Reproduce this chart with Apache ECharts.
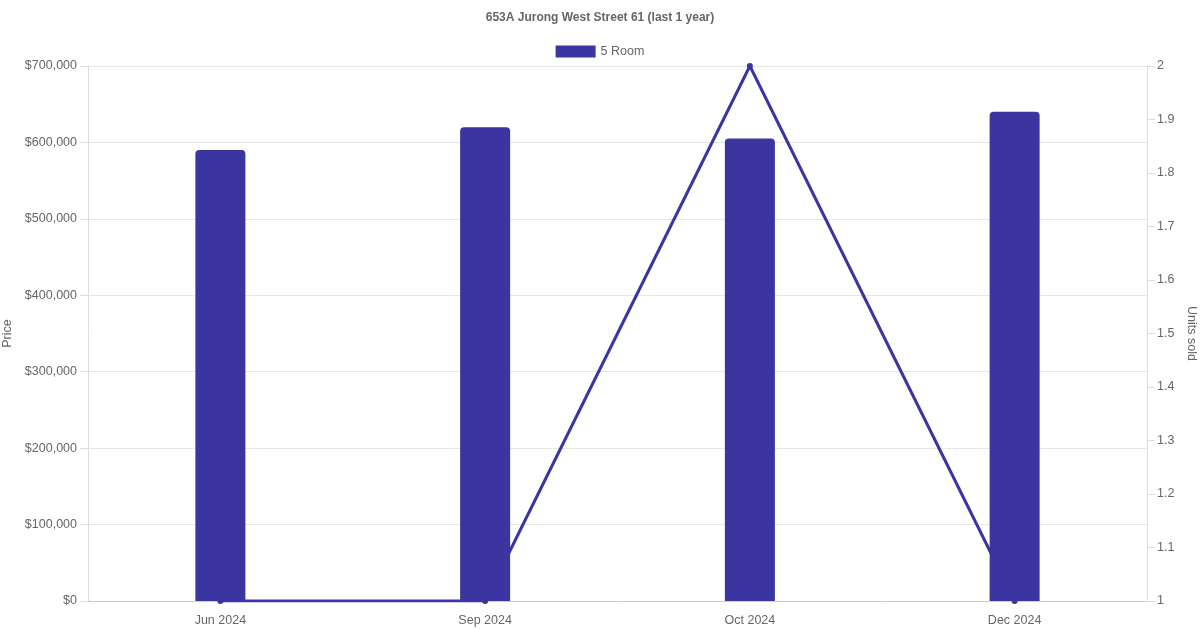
<!DOCTYPE html>
<html><head><meta charset="utf-8">
<script src="https://cdn.jsdelivr.net/npm/echarts@6/dist/echarts.min.js"></script>
<style>html,body{margin:0;padding:0;background:#fff}#c{width:1200px;height:630px}</style>
</head><body><div id="c"></div>
<script>
const categories = ['Jun 2024', 'Sep 2024', 'Oct 2024', 'Dec 2024'];
const prices = [590000, 620000, 605000, 640000];
const unitsSold = [1, 1, 2, 1];
const seriesName = '5 Room';
const titleText = '653A Jurong West Street 61 (last 1 year)';

const color = '#3a35a0';
const chart = echarts.init(document.getElementById('c'), null, {renderer: 'canvas'});
const font = '"Liberation Sans", Arial, Helvetica, sans-serif';
chart.setOption({
  animation: false,
  textStyle: {fontFamily: font},
  title: {text: titleText, left: 'center', top: 7, textStyle: {fontSize: 12, fontWeight: 'bold', color: '#666', fontFamily: font}},
  legend: {data: [{name: seriesName, icon: 'rect'}], top: 40, itemWidth: 40, itemHeight: 12, itemGap: 6, textStyle: {fontSize: 12.5, color: '#666', fontFamily: font}},
  grid: {left: 88, right: 53, top: 66, bottom: 29, containLabel: false, outerBoundsMode: 'none'},
  xAxis: {
    type: 'category', data: categories,
    axisLine: {show: true, lineStyle: {color: '#ccc'}},
    axisTick: {show: false},
    axisLabel: {color: '#666', fontSize: 12.5, margin: 13, fontFamily: font},
    splitLine: {show: false}
  },
  yAxis: [{
    type: 'value', min: 0, max: 700000, interval: 100000,
    name: 'Price', nameLocation: 'middle', nameGap: 66,
    nameTextStyle: {color: '#666', fontSize: 12.5, fontFamily: font},
    axisLine: {show: true, lineStyle: {color: '#ddd'}},
    axisTick: {show: true, length: 8, lineStyle: {color: '#ddd'}},
    axisLabel: {color: '#666', fontSize: 12.5, margin: 11, padding: [3, 0, 0, 0], fontFamily: font, formatter: v => '$' + v.toLocaleString('en-US')},
    splitLine: {lineStyle: {color: '#e6e6e6'}}
  }, {
    type: 'value', min: 1, max: 2, interval: 0.1,
    name: 'Units sold', nameLocation: 'middle', nameGap: 34, nameRotate: -90,
    nameTextStyle: {color: '#666', fontSize: 12.5, fontFamily: font},
    axisLine: {show: true, lineStyle: {color: '#ddd'}},
    axisTick: {show: true, length: 8, lineStyle: {color: '#ddd'}},
    axisLabel: {color: '#666', fontSize: 12.5, margin: 10, padding: [3, 0, 0, 0], fontFamily: font, formatter: v => Number(v.toFixed(1)).toString()},
    splitLine: {show: false}
  }],
  series: [{
    name: seriesName, type: 'bar', data: prices, yAxisIndex: 0, barWidth: 50, z: 3,
    itemStyle: {color: color, borderRadius: [4, 4, 0, 0]}
  }, {
    name: seriesName, type: 'line', data: unitsSold, yAxisIndex: 1, z: 2,
    symbol: 'circle', symbolSize: 6,
    lineStyle: {color: color, width: 3}, itemStyle: {color: color}
  }]
});
</script></body></html>
